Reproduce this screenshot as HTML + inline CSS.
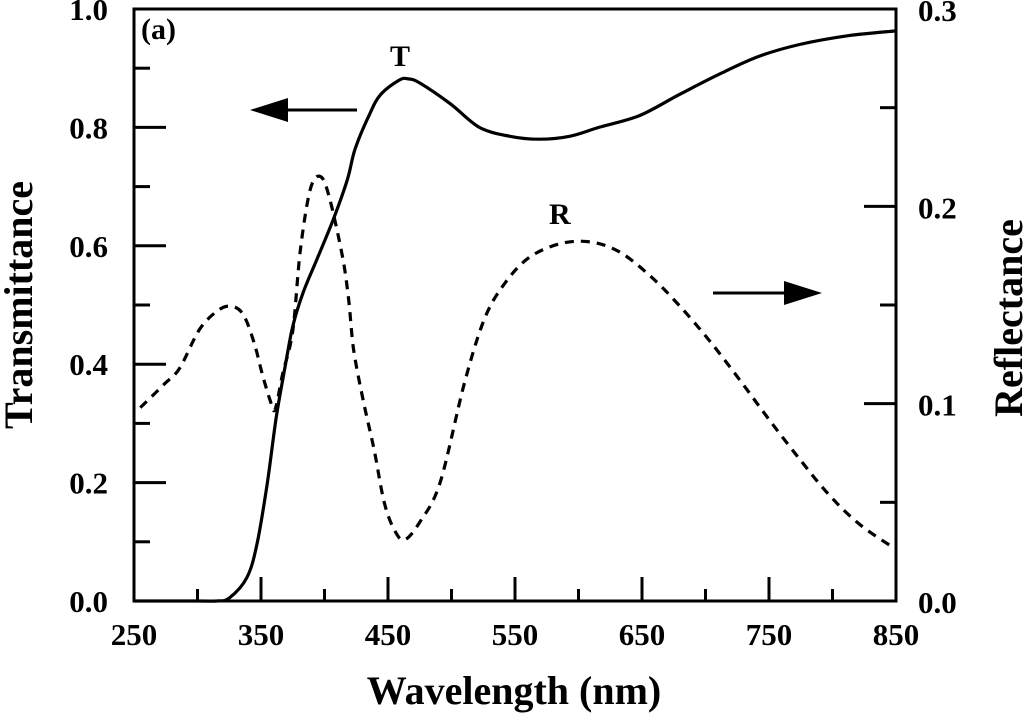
<!DOCTYPE html>
<html><head><meta charset="utf-8">
<style>
html,body{margin:0;padding:0;background:#fff;}
svg{display:block;font-family:"Liberation Serif",serif;font-weight:bold;}
</style></head>
<body>
<svg id="chart" width="1024" height="713" viewBox="0 0 1024 713">
<g id="ticks"></g>
<g id="labels"></g>
<path id="rline" fill="none" stroke="#000" stroke-width="3.2" stroke-dasharray="9,7"/>
<path id="tline" fill="none" stroke="#000" stroke-width="3.2"/>
<rect x="134" y="9" width="762" height="592" fill="none" stroke="#000" stroke-width="3"/>
<text x="141" y="39" font-size="30">(a)</text>
<text x="390" y="66" font-size="30">T</text>
<text x="549" y="224" font-size="30">R</text>
<g><line x1="357" y1="110" x2="280" y2="110" stroke="#000" stroke-width="3"/><polygon points="250,110 288,98 288,122" fill="#000"/></g>
<g><line x1="713" y1="293" x2="790" y2="293" stroke="#000" stroke-width="3"/><polygon points="822,293 784,281 784,305" fill="#000"/></g>
<text x="514" y="704" font-size="40" text-anchor="middle">Wavelength (nm)</text>
<text transform="translate(32,305) rotate(-90)" font-size="40" text-anchor="middle">Transmittance</text>
<text transform="translate(1022,318) rotate(-90)" font-size="40" text-anchor="middle">Reflectance</text>
</svg>
<script>
const tWave=[250,300,315,325,339,347,355,362,369,375,383,394,407,418,424,435,444,459,466,475,499,522,546,569,593,616,648,679,711,742,774,813,850];
const tVals=[0,0,0,0.005,0.04,0.098,0.2,0.31,0.396,0.464,0.52,0.577,0.645,0.712,0.763,0.82,0.855,0.88,0.882,0.875,0.84,0.80,0.785,0.78,0.785,0.80,0.82,0.855,0.89,0.92,0.94,0.955,0.963];
const rWave=[255,274,286,302,318,329,337,345,351,357,361,367,375,381,389,397,404,414,419,423,431,439,447,455,463,475,491,510,526,542,561,585,609,632,656,679,703,727,750,774,797,821,848];
const rVals=[0.098,0.11,0.118,0.138,0.148,0.149,0.144,0.13,0.115,0.102,0.097,0.115,0.137,0.178,0.209,0.215,0.204,0.175,0.153,0.127,0.10,0.077,0.05,0.036,0.031,0.04,0.06,0.11,0.143,0.161,0.174,0.181,0.182,0.177,0.165,0.15,0.132,0.112,0.092,0.072,0.054,0.039,0.027];
const xTicks=[250,350,450,550,650,750,850];
const leftTicks=[0.0,0.2,0.4,0.6,0.8,1.0];
const rightTicks=[0.0,0.1,0.2,0.3];

const X0=134,X1=896,Y0=601,Y1=9;
const xs=v=>X0+(v-250)/600*(X1-X0);
const yl=v=>Y0-v*(Y0-Y1);
const yr=v=>Y0-v/0.3*(Y0-Y1);
const NS='http://www.w3.org/2000/svg';
function smooth(pts){
  let d='M'+pts[0][0].toFixed(1)+','+pts[0][1].toFixed(1);
  for(let i=0;i<pts.length-1;i++){
    const p0=pts[Math.max(0,i-1)],p1=pts[i],p2=pts[i+1],p3=pts[Math.min(pts.length-1,i+2)];
    const c1=[p1[0]+(p2[0]-p0[0])/6,p1[1]+(p2[1]-p0[1])/6];
    const c2=[p2[0]-(p3[0]-p1[0])/6,p2[1]-(p3[1]-p1[1])/6];
    d+='C'+c1[0].toFixed(1)+','+c1[1].toFixed(1)+' '+c2[0].toFixed(1)+','+c2[1].toFixed(1)+' '+p2[0].toFixed(1)+','+p2[1].toFixed(1);
  }
  return d;
}
document.getElementById('tline').setAttribute('d',smooth(tWave.map((w,i)=>[xs(w),yl(tVals[i])])));
document.getElementById('rline').setAttribute('d',smooth(rWave.map((w,i)=>[xs(w),yr(rVals[i])])));

const tg=document.getElementById('ticks'),lg=document.getElementById('labels');
function line(x1,y1,x2,y2){const l=document.createElementNS(NS,'line');
l.setAttribute('x1',x1);l.setAttribute('y1',y1);l.setAttribute('x2',x2);l.setAttribute('y2',y2);
l.setAttribute('stroke','#000');l.setAttribute('stroke-width','3');


tg.appendChild(l);}
function label(x,y,s,anchor){const t=document.createElementNS(NS,'text');
t.setAttribute('x',x);t.setAttribute('y',y);t.setAttribute('font-size','31');t.setAttribute('text-anchor',anchor);
t.textContent=s;


lg.appendChild(t);}
for(let w=300;w<850;w+=50){const major=(w-250)%100===0;line(xs(w),Y0,xs(w),Y0-(major?24:12));}
xTicks.forEach(w=>label(xs(w),645,String(w),'middle'));
for(let k=1;k<=9;k++){const v=k*0.1;line(X0,yl(v),X0+(k%2===0?32:16),yl(v));}
leftTicks.forEach(v=>label(108,yl(v)+11,v.toFixed(1),'end'));
for(let k=1;k<=5;k++){const v=k*0.05;line(X1,yr(v),X1-(k%2===0?32:16),yr(v));}
rightTicks.forEach(v=>label(918,yr(v)+12,v.toFixed(1),'start'));
</script>
</body></html>
